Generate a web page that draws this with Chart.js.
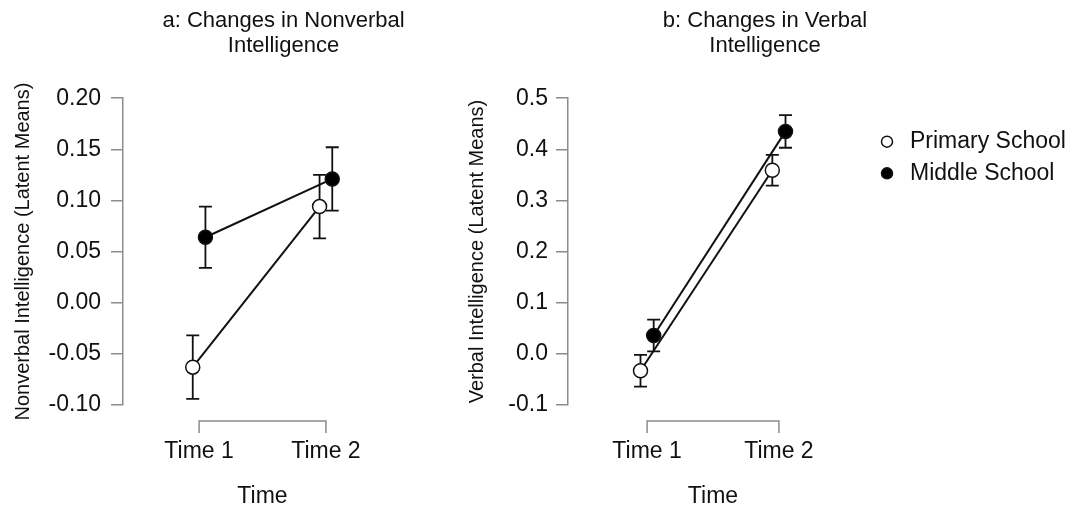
<!DOCTYPE html>
<html>
<head>
<meta charset="utf-8">
<script src="https://cdn.jsdelivr.net/npm/chart.js@4.4.0/dist/chart.umd.min.js"></script>
<style>
  html, body { margin: 0; padding: 0; background: #fff; overflow: hidden; }
  .panel { position: absolute; top: 0; height: 509px; }
  #panelA { left: 0; width: 567px; }
  #panelB { left: 454px; width: 622px; }
</style>
</head>
<body>
<div class="panel" id="panelA"><canvas id="chartA"></canvas></div>
<div class="panel" id="panelB"><canvas id="chartB"></canvas></div>
<script>
const timeLabels = ['Time 1', 'Time 2'];
const timePoints = [1, 2];
const groups = ['Primary School', 'Middle School'];

// panel a: nonverbal intelligence (latent means, +/- error)
const nonverbalPrimary = [-0.063, 0.094];
const nonverbalMiddle = [0.064, 0.121];
const nonverbalPrimaryErr = [0.031, 0.031];
const nonverbalMiddleErr = [0.030, 0.031];
const nonverbalTicks = [-0.10, -0.05, 0.00, 0.05, 0.10, 0.15, 0.20];

// panel b: verbal intelligence
const verbalPrimary = [-0.033, 0.359];
const verbalMiddle = [0.036, 0.435];
const verbalPrimaryErr = [0.031, 0.030];
const verbalMiddleErr = [0.031, 0.032];
const verbalTicks = [-0.1, 0.0, 0.1, 0.2, 0.3, 0.4, 0.5];

// small horizontal offset so the two groups don't overlap
const dodge = 0.05;

Chart.defaults.font.family = '"Liberation Sans", Arial, sans-serif';
Chart.defaults.color = '#111';

const axisGray = '#8c8c8c';

const errorBars = {
  id: 'errorBars',
  beforeDatasetsDraw(chart) {
    const ctx = chart.ctx;
    const y = chart.scales.y;
    ctx.save();
    ctx.strokeStyle = '#111';
    ctx.lineWidth = 1.8;
    chart.data.datasets.forEach((ds, i) => {
      chart.getDatasetMeta(i).data.forEach((pt, j) => {
        const d = ds.data[j];
        const top = y.getPixelForValue(d.y + d.err);
        const bot = y.getPixelForValue(d.y - d.err);
        ctx.beginPath();
        ctx.moveTo(pt.x, top);
        ctx.lineTo(pt.x, bot);
        ctx.moveTo(pt.x - 6.5, top);
        ctx.lineTo(pt.x + 6.5, top);
        ctx.moveTo(pt.x - 6.5, bot);
        ctx.lineTo(pt.x + 6.5, bot);
        ctx.stroke();
      });
    });
    ctx.restore();
  }
};

// R style x axis: bracket from first to last tick, a bit below the plot
const timeAxis = {
  id: 'timeAxis',
  afterDraw(chart) {
    const ctx = chart.ctx;
    const x = chart.scales.x;
    const y0 = chart.chartArea.bottom + 16;
    const x1 = x.getPixelForValue(timePoints[0]);
    const x2 = x.getPixelForValue(timePoints[timePoints.length - 1]);
    ctx.save();
    ctx.strokeStyle = axisGray;
    ctx.lineWidth = 1.5;
    ctx.beginPath();
    ctx.moveTo(x1, y0 + 12);
    ctx.lineTo(x1, y0);
    ctx.lineTo(x2, y0);
    ctx.lineTo(x2, y0 + 12);
    ctx.stroke();
    ctx.restore();
  }
};

const sideLegend = {
  id: 'sideLegend',
  afterDraw(chart, args, opts) {
    if (!opts.show) return;
    const ctx = chart.ctx;
    ctx.save();
    ctx.font = '23px "Liberation Sans", Arial, sans-serif';
    ctx.textBaseline = 'middle';
    ctx.textAlign = 'left';
    chart.data.datasets.forEach((ds, i) => {
      const cy = opts.y + i * opts.rowHeight;
      ctx.beginPath();
      ctx.arc(opts.x, cy, 5.5, 0, Math.PI * 2);
      ctx.fillStyle = ds.pointBackgroundColor;
      ctx.fill();
      ctx.lineWidth = 1.5;
      ctx.strokeStyle = ds.pointBorderColor;
      ctx.stroke();
      ctx.fillStyle = '#111';
      ctx.fillText(ds.label, opts.x + 23, cy);
    });
    ctx.restore();
  }
};

function series(values, errs, shift) {
  return timePoints.map((t, i) => ({ x: t + shift, y: values[i], err: errs[i] }));
}

function makePanel(id, p) {
  return new Chart(document.getElementById(id), {
    type: 'scatter',
    data: {
      datasets: [
        {
          label: groups[0],
          data: series(p.primary, p.primaryErr, -dodge),
          yAxisID: 'y',
          showLine: true,
          borderColor: '#111',
          borderWidth: 2,
          pointRadius: 7,
          pointBackgroundColor: '#fff',
          pointBorderColor: '#111',
          pointBorderWidth: 1.5
        },
        {
          label: groups[1],
          data: series(p.middle, p.middleErr, dodge),
          yAxisID: 'y',
          showLine: true,
          borderColor: '#111',
          borderWidth: 2,
          pointRadius: 7,
          pointBackgroundColor: '#000',
          pointBorderColor: '#111',
          pointBorderWidth: 1.5
        }
      ]
    },
    options: {
      responsive: true,
      maintainAspectRatio: false,
      animation: false,
      layout: { padding: 0 },
      plugins: {
        legend: { display: false },
        tooltip: { enabled: false },
        title: {
          display: true,
          text: p.title,
          color: '#111',
          font: { size: 22, weight: 'normal', lineHeight: 1.14 },
          padding: { top: 8.5, bottom: 39.5 }
        },
        sideLegend: p.legend
      },
      scales: {
        x: {
          type: 'linear',
          min: 0.4,
          max: 2.6,
          afterBuildTicks: (s) => { s.ticks = timePoints.map(v => ({ value: v })); },
          afterFit: (s) => { s.height = 104; },
          grid: { display: false, drawTicks: false },
          border: { display: false },
          ticks: {
            padding: 33,
            maxRotation: 0,
            autoSkip: false,
            color: '#111',
            font: { size: 23 },
            callback: (v) => timeLabels[timePoints.indexOf(v)]
          },
          title: {
            display: true,
            text: 'Time',
            color: '#111',
            font: { size: 23, lineHeight: 1 },
            padding: { top: 0, bottom: 1 }
          }
        },
        y: {
          min: p.ticks[0],
          max: p.ticks[p.ticks.length - 1],
          afterBuildTicks: (s) => { s.ticks = p.ticks.map(v => ({ value: v })); },
          afterFit: (s) => { s.width = p.yWidth; },
          grid: { drawOnChartArea: false, drawTicks: true, tickLength: 12, color: axisGray, lineWidth: 1.5 },
          border: { display: true, color: axisGray, width: 1.5 },
          ticks: {
            padding: p.tickPad,
            color: '#111',
            font: { size: 23 },
            callback: (v) => v.toFixed(p.digits)
          },
          title: {
            display: true,
            text: p.yTitle,
            color: '#111',
            font: { size: 20 },
            padding: { top: 11, bottom: 0 }
          }
        },
        // empty margin on the right of the plot (holds the legend in panel b)
        gap: {
          position: 'right',
          grid: { display: false },
          border: { display: false },
          ticks: { display: false },
          afterFit: (s) => { s.width = p.rightGap; }
        }
      }
    },
    plugins: [errorBars, timeAxis, sideLegend]
  });
}

makePanel('chartA', {
  title: ['a: Changes in Nonverbal', 'Intelligence'],
  yTitle: 'Nonverbal Intelligence (Latent Means)',
  primary: nonverbalPrimary, primaryErr: nonverbalPrimaryErr,
  middle: nonverbalMiddle, middleErr: nonverbalMiddleErr,
  ticks: nonverbalTicks, digits: 2,
  yWidth: 123, tickPad: 10, rightGap: 165,
  legend: { show: false }
});

makePanel('chartB', {
  title: ['b: Changes in Verbal', 'Intelligence'],
  yTitle: 'Verbal Intelligence (Latent Means)',
  primary: verbalPrimary, primaryErr: verbalPrimaryErr,
  middle: verbalMiddle, middleErr: verbalMiddleErr,
  ticks: verbalTicks, digits: 1,
  yWidth: 114, tickPad: 8, rightGap: 218,
  legend: { show: true, x: 433, y: 141.7, rowHeight: 31.6 }
});
</script>
</body>
</html>
